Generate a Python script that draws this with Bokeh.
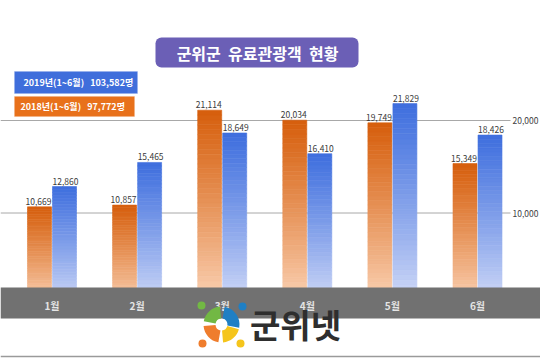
from bokeh.plotting import figure
from bokeh.models import Range1d, BoxAnnotation, Label
from bokeh.core.properties import value
from bokeh.embed import file_html
from bokeh.resources import INLINE

# ---- data ----
months = ["1월", "2월", "3월", "4월", "5월", "6월"]
visitors_2018 = [10669, 10857, 21114, 20034, 19749, 15349]
visitors_2019 = [12860, 15465, 18649, 16410, 21829, 18426]
grid_ticks = [10000, 20000]
grid_labels = ["10,000", "20,000"]
title_text = "군위군 유료관광객 현황"
legend_2019 = "2019년(1~6월)  103,582명"
legend_2018 = "2018년(1~6월)  97,772명"

# ---- layout helpers (page pixel -> data) ----
UNIT_X = 85.1
def px_x(px):
    return (px - 51.5) / UNIT_X
PX_PER_VAL = 0.00925
def px_y(py):
    return (305 - py) / PX_PER_VAL

def keep_spaces(s, n=3):
    return s.replace(" ", "\u00a0" * n)

p = figure(width=540, height=360, output_backend="svg", toolbar_location=None,
           x_range=Range1d(px_x(0), px_x(540)), y_range=Range1d(px_y(360), px_y(0)),
           min_border=0, title=None)
p.axis.visible = False
p.grid.visible = False
p.outline_line_color = None
p.background_fill_color = "white"
p.border_fill_color = "white"

KR = "Noto Sans CJK KR"

# gridlines
p.segment(x0=[px_x(0)] * len(grid_ticks), x1=[px_x(510)] * len(grid_ticks),
          y0=grid_ticks, y1=grid_ticks, line_color="#a8a8a8", line_width=1)
p.text(x=[px_x(512)] * len(grid_ticks), y=grid_ticks, text=grid_labels,
       text_font=value(KR), text_font_size="8.5px", text_color="#404040",
       text_align="left", text_baseline="middle")

# gradient bars
def mix(c1, c2, t):
    return "#%02x%02x%02x" % tuple(int(round(a + (b - a) * t)) for a, b in zip(c1, c2))

def gradient_bars(xs, vals, width, top_c, bot_c, n=40):
    L, R, B, T, C = [], [], [], [], []
    for x, v in zip(xs, vals):
        for k in range(n):
            t = ((k + 0.5) / n) ** 0.85
            L.append(x - width / 2); R.append(x + width / 2)
            B.append(v * k / n); T.append(v * (k + 1) / n)
            C.append(mix(bot_c, top_c, t))
    p.quad(left=L, right=R, bottom=B, top=T, fill_color=C, line_color=C, line_width=0.6)

BW = 0.282
OFF = 0.147
x18 = [i - OFF for i in range(len(months))]
x19 = [i + OFF for i in range(len(months))]
gradient_bars(x18, visitors_2018, BW, (214, 94, 12), (253, 218, 192))
gradient_bars(x19, visitors_2019, BW, (62, 110, 222), (218, 225, 249))

# value labels
p.text(x=x18, y=visitors_2018, text=[f"{v:,}" for v in visitors_2018],
       text_font=value(KR), text_font_size="8.5px", text_color="#3a3a3a",
       text_align="center", text_baseline="bottom", y_offset=-2, x_offset=-1)
p.text(x=x19, y=visitors_2019, text=[f"{v:,}" for v in visitors_2019],
       text_font=value(KR), text_font_size="8.5px", text_color="#3a3a3a",
       text_align="center", text_baseline="bottom", y_offset=-2, x_offset=1)

# category band
p.quad(left=[px_x(0)], right=[px_x(540)], bottom=[px_y(318)], top=[px_y(287)],
       fill_color="#717171", line_color=None)
p.text(x=list(range(len(months))), y=[px_y(305)] * len(months), text=months,
       text_font=value(KR), text_font_size="10px", text_font_style="bold",
       text_color="#e4e4e4", text_align="center", text_baseline="middle")

# bottom border line
p.segment(x0=[px_x(0)], x1=[px_x(540)], y0=[px_y(356)], y1=[px_y(356)],
          line_color="#9a9a9a", line_width=1.5)

# watermark logo
cx, cy = px_x(221), px_y(324)
wedge_cols = ["#1f7fc4", "#72b844", "#ef7d2d", "#f5c51c"]
starts = [-10, 95, 185, 275]
ends = [80, 170, 260, 345]
p.annular_wedge(x=[cx] * 4, y=[cy] * 4, inner_radius=6, outer_radius=18,
                inner_radius_units="screen", outer_radius_units="screen",
                start_angle=starts, end_angle=ends, start_angle_units="deg",
                end_angle_units="deg", fill_color=wedge_cols, line_color=None)
p.scatter(x=[px_x(242), px_x(201), px_x(202), px_x(240)],
          y=[px_y(306), px_y(305), px_y(343), px_y(343)],
          size=8, fill_color=wedge_cols, line_color=None)
p.text(x=[px_x(295)], y=[px_y(323)], text=["군위넷"], text_font=value(KR),
       text_font_size="33px", text_font_style="bold", text_color="#2e2e2e",
       text_align="center", text_baseline="middle")

# title box
p.add_layout(BoxAnnotation(left=px_x(155), right=px_x(358), top=px_y(37), bottom=px_y(67),
                           fill_color="#6b5fb6", fill_alpha=1, line_alpha=0, border_radius=6))
p.add_layout(Label(x=px_x(257), y=px_y(52), text=keep_spaces(title_text, 2), text_font=KR,
                   text_font_size="16px", text_font_style="bold", text_color="white",
                   text_align="center", text_baseline="middle"))

# legend boxes
p.add_layout(BoxAnnotation(left=px_x(14), right=px_x(137), top=px_y(71), bottom=px_y(93),
                           fill_color="#3f6edb", fill_alpha=1, line_color="#8fa9ea",
                           line_width=1))
p.add_layout(Label(x=px_x(23), y=px_y(82), text=legend_2019.replace("  ", "\u00a0\u00a0\u00a0"),
                   text_font=KR, text_font_size="9px", text_font_style="bold",
                   text_color="white", text_align="left", text_baseline="middle"))
p.add_layout(BoxAnnotation(left=px_x(14), right=px_x(134), top=px_y(96), bottom=px_y(116),
                           fill_color="#e8711b", fill_alpha=1, line_color="#f3ad7a",
                           line_width=1))
p.add_layout(Label(x=px_x(20), y=px_y(106), text=legend_2018.replace("  ", "\u00a0\u00a0\u00a0"),
                   text_font=KR, text_font_size="9px", text_font_style="bold",
                   text_color="white", text_align="left", text_baseline="middle"))

open("out.html", "w").write(file_html(p, INLINE))
